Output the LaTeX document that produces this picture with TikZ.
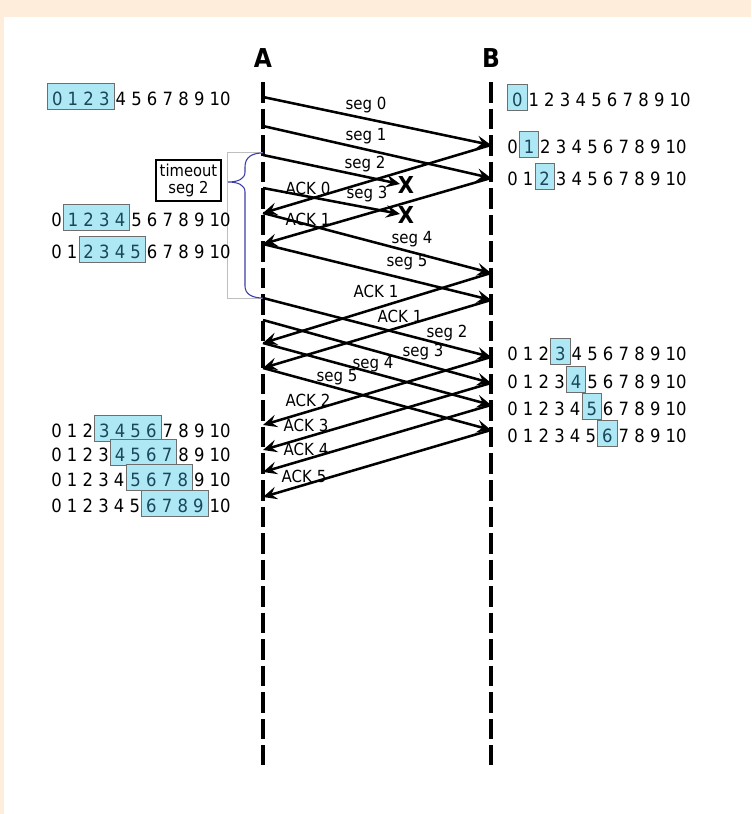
\documentclass[tikz,border=0pt]{standalone}
\usepackage{fontspec}
\setmainfont[FakeStretch=0.9]{DejaVu Sans}
\usetikzlibrary{arrows.meta}

\definecolor{peach}{RGB}{255,237,219}
\definecolor{wndfill}{RGB}{175,232,245}
\definecolor{wndline}{RGB}{110,110,110}
\definecolor{wndtext}{RGB}{25,70,90}
\definecolor{bracecol}{RGB}{60,60,170}

% highlighted part of a window
\newlength{\wpad}\setlength{\wpad}{3pt}
\newcommand{\wnd}[1]{{\setlength{\fboxsep}{0pt}\setlength{\fboxrule}{0.6pt}%
  \kern-\wpad\fcolorbox{wndline}{wndfill}{\rule[-3.3pt]{0pt}{19.5pt}\kern\wpad\textcolor{wndtext}{#1}\kern\wpad}\kern-\wpad}}

\begin{document}
\begin{tikzpicture}[x=0.75pt,y=-0.75pt,
  msg/.style={-{Stealth[length=10.5pt,width=9.5pt,inset=4pt]},line width=1.9pt},
  life/.style={line width=3.6pt,dash pattern=on 15.4pt off 4.5pt},
  lbl/.style={inner sep=0pt,font=\fontsize{12.5}{14}\selectfont},
  row/.style={anchor=base west,inner sep=0pt,font=\fontsize{13.7}{15}\selectfont},
  head/.style={anchor=base,inner sep=0pt,font=\fontsize{19.5}{19.5}\selectfont\bfseries},
  lost/.style={inner sep=0pt,font=\fontsize{17.5}{17.5}\selectfont\bfseries},
  tbox/.style={draw,line width=1.8pt,align=center,inner sep=1pt,
    minimum width=48.75pt,minimum height=30.75pt,font=\fontsize{12.3}{12.5}\selectfont}]
\useasboundingbox (0,0) rectangle (751,814);
\fill[peach] (0,0) rectangle (751,814);
\fill[white] (4,17) rectangle (751,814);

% lifelines
\coordinate (Atop) at (263,82);
\coordinate (Abot) at (263,765);
\coordinate (Btop) at (491,82);
\coordinate (Bbot) at (491,765);
\draw[life] (Atop) -- (Abot);
\draw[life] (Btop) -- (Bbot);
\node[head] (A) at (263,67) {A};
\node[head] (B) at (491,67) {B};

\foreach \y in {97,126,155,188,213,244,298,320,343,368,425,450,472,497}
  \coordinate (a\y) at (263,\y);
\foreach \y in {145,178,273,300,357,383,405,430}
  \coordinate (b\y) at (491,\y);
\coordinate (x2) at (400,184);
\coordinate (x3) at (400,214);

% timeout
\draw[gray!50,line width=0.5pt] (a155) ++(0,-3) -- (227,152) -- (227,298) -- (a298);
\draw[bracecol,line width=0.8pt] (263,153) .. controls (252,153) and (245,157) .. (245,167)
  -- (245,172) .. controls (245,179) and (238,182) .. (228,182)
  .. controls (238,182) and (245,185) .. (245,192) -- (245,286)
  .. controls (245,294) and (252,298) .. (263,298);
\node[tbox] (tmo) at (188.5,180.5) {timeout\\seg 2};

% first round
\draw[msg] (a97) -- (b145);
\node[lbl] (lseg0) at (366,105) {seg 0};
\draw[msg] (a126) -- (b178);
\node[lbl] (lseg1) at (366,136) {seg 1};
\draw[msg] (a155) -- (x2);
\node[lbl] (lseg2) at (365,164) {seg 2};
\node[lost] (lost2) at (406,185) {X};
\draw[msg] (b145) -- (a213);
\node[lbl] (lack0) at (308,188) {ACK 0};
\draw[msg] (a188) -- (x3);
\node[lbl] (lseg3) at (367,194) {seg 3};
\node[lost] (lost3) at (406,215) {X};
\draw[msg] (b178) -- (a244);
\node[lbl] (lack1) at (308,219) {ACK 1};
\draw[msg] (a213) -- (b273);
\node[lbl] (lseg4) at (412,239) {seg 4};
\draw[msg] (a244) -- (b300);
\node[lbl] (lseg5) at (407,262) {seg 5};
\draw[msg] (b273) -- (a343);
\node[lbl] (lack1b) at (376,291) {ACK 1};
\draw[msg] (b300) -- (a368);
\node[lbl] (lack1c) at (400,316) {ACK 1};

% retransmission
\draw[msg] (a298) -- (b357);
\node[lbl] (lseg2r) at (447,333) {seg 2};
\draw[msg] (a320) -- (b383);
\node[lbl] (lseg3r) at (423,352) {seg 3};
\draw[msg] (a343) -- (b405);
\node[lbl] (lseg4r) at (373,364) {seg 4};
\draw[msg] (a368) -- (b430);
\node[lbl] (lseg5r) at (337,377) {seg 5};
\draw[msg] (b357) -- (a425);
\node[lbl] (lack2) at (308,400) {ACK 2};
\draw[msg] (b383) -- (a450);
\node[lbl] (lack3) at (306,425) {ACK 3};
\draw[msg] (b405) -- (a472);
\node[lbl] (lack4) at (306,449) {ACK 4};
\draw[msg] (b430) -- (a497);
\node[lbl] (lack5) at (304,476) {ACK 5};

% sender windows
\node[row] (wa1) at (51,105) {\wnd{0 1 2 3} 4 5 6 7 8 9 10};
\node[row] (wa2) at (51,226) {0 \wnd{1 2 3 4} 5 6 7 8 9 10};
\node[row] (wa3) at (51,258) {0 1 \wnd{2 3 4 5} 6 7 8 9 10};
\node[row] (wa4) at (51,437) {0 1 2 \wnd{3 4 5 6} 7 8 9 10};
\node[row] (wa5) at (51,461) {0 1 2 3 \wnd{4 5 6 7} 8 9 10};
\node[row] (wa6) at (51,486) {0 1 2 3 4 \wnd{5 6 7 8} 9 10};
\node[row] (wa7) at (51,512) {0 1 2 3 4 5 \wnd{6 7 8 9} 10};

% receiver windows
\node[row] (wb1) at (511,106) {\wnd{0} 1 2 3 4 5 6 7 8 9 10};
\node[row] (wb2) at (507,153) {0 \wnd{1} 2 3 4 5 6 7 8 9 10};
\node[row] (wb3) at (507,185) {0 1 \wnd{2} 3 4 5 6 7 8 9 10};
\node[row] (wb4) at (507,360) {0 1 2 \wnd{3} 4 5 6 7 8 9 10};
\node[row] (wb5) at (507,388) {0 1 2 3 \wnd{4} 5 6 7 8 9 10};
\node[row] (wb6) at (507,415) {0 1 2 3 4 \wnd{5} 6 7 8 9 10};
\node[row] (wb7) at (507,442) {0 1 2 3 4 5 \wnd{6} 7 8 9 10};
\end{tikzpicture}
\end{document}
